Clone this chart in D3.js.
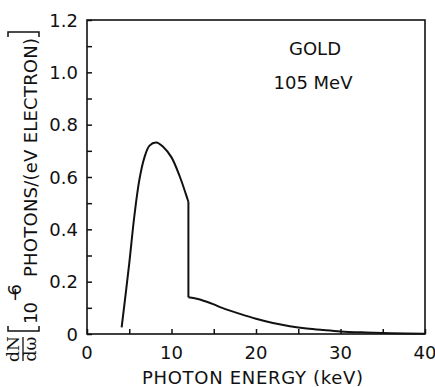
<!DOCTYPE html>
<meta charset="utf-8">
<style>
    body { margin: 0; background: #fff; }
    .tick-label { font: 18px "DejaVu Sans", sans-serif; fill: #111; }
    .title { font: 18px "DejaVu Sans", sans-serif; fill: #111; }
    .frac { font: 17px "DejaVu Serif", "Liberation Serif", serif; fill: #111; }
</style>
<svg width="435" height="387"></svg>
<script src="https://d3js.org/d3.v7.min.js"></script>
<script>

    // spectrum below the L-edge (keV, 1e-6 photons / (eV electron))
    var lowE = [4.1, 5.0, 5.6, 6.2, 6.8, 7.4, 8.2, 9.0, 10.0, 11.0, 11.9, 12.0];
    var lowN = [0.025, 0.27, 0.45, 0.59, 0.675, 0.72, 0.732, 0.716, 0.675, 0.60, 0.515, 0.505];
    // spectrum above the edge
    var highE = [12.0, 13, 14, 15, 16, 18, 20, 22, 24, 26, 28, 30, 33, 36, 40];
    var highN = [0.14, 0.135, 0.125, 0.113, 0.10, 0.078, 0.058, 0.042, 0.030, 0.021, 0.015, 0.010, 0.006, 0.003, 0.001];

    var xTicks = [0, 10, 20, 30, 40];
    var yTicks = [0, 0.2, 0.4, 0.6, 0.8, 1.0, 1.2];
    var notes = ["GOLD", "105 MeV"];

    var svg = d3.select("svg"),
        pLeft = 87, pRight = 425, pTop = 20, pBottom = 334;

    var x = d3.scaleLinear().domain([0, 40]).range([pLeft, pRight]);
    var y = d3.scaleLinear().domain([0, 1.2]).range([pBottom, pTop]);

    // frame
    svg.append("rect")
        .attr("x", pLeft).attr("y", pTop)
        .attr("width", pRight - pLeft).attr("height", pBottom - pTop)
        .attr("fill", "none").attr("stroke", "#111").attr("stroke-width", 1.6);

    // inward ticks
    svg.append("g").attr("transform", "translate(0," + pBottom + ")")
        .call(d3.axisBottom(x).tickValues(d3.range(0, 41, 5)).tickSize(-5).tickFormat(""));
    svg.append("g").attr("transform", "translate(" + pLeft + ",0)")
        .call(d3.axisLeft(y).tickValues(d3.range(0, 1.21, 0.1)).tickSize(-5).tickFormat(""));
    svg.selectAll(".domain").remove();
    svg.selectAll(".tick line").attr("stroke", "#111").attr("stroke-width", 1.5);

    svg.selectAll(".xl").data(xTicks).enter().append("text")
        .attr("class", "tick-label")
        .attr("x", function (d) { return x(d); })
        .attr("y", 359)
        .attr("text-anchor", "middle")
        .text(function (d) { return d; });

    svg.selectAll(".yl").data(yTicks).enter().append("text")
        .attr("class", "tick-label")
        .attr("x", 78)
        .attr("y", function (d) { return y(d) + 6.5; })
        .attr("text-anchor", "end")
        .text(function (d) { return d === 0 ? "0" : d3.format(".1f")(d); });

    // curve
    var line = d3.line()
        .x(function (d) { return x(d[0]); })
        .y(function (d) { return y(d[1]); })
        .curve(d3.curveCatmullRom.alpha(0.5));

    var lowPts = d3.zip(lowE, lowN), highPts = d3.zip(highE, highN);
    svg.append("path").attr("d", line(lowPts))
        .attr("fill", "none").attr("stroke", "#111").attr("stroke-width", 2);
    svg.append("line")
        .attr("x1", x(lowE[lowE.length - 1])).attr("y1", y(lowN[lowN.length - 1]))
        .attr("x2", x(highE[0])).attr("y2", y(highN[0]))
        .attr("stroke", "#111").attr("stroke-width", 2);
    svg.append("path").attr("d", line(highPts))
        .attr("fill", "none").attr("stroke", "#111").attr("stroke-width", 2);

    // annotations
    svg.append("text").attr("class", "title").attr("x", 315).attr("y", 54.5)
        .attr("text-anchor", "middle").text(notes[0]);
    svg.append("text").attr("class", "title").attr("x", 313).attr("y", 88.5)
        .attr("text-anchor", "middle").text(notes[1]);

    // x title
    svg.append("text").attr("class", "title")
        .attr("x", 142).attr("y", 384)
        .attr("textLength", 221).attr("lengthAdjust", "spacing")
        .text("PHOTON ENERGY  (keV)");

    // y title, rotated: local (u, v) -> screen (v, -u)
    var gt = svg.append("g").attr("transform", "rotate(-90)");
    gt.append("text").attr("class", "frac").attr("x", -349).attr("y", 19)
        .attr("text-anchor", "middle").text("dN");
    gt.append("text").attr("class", "frac").attr("x", -349).attr("y", 36)
        .attr("text-anchor", "middle").text("dω");
    gt.append("line").attr("x1", -361).attr("x2", -337).attr("y1", 23).attr("y2", 23)
        .attr("stroke", "#111").attr("stroke-width", 1.3);
    gt.append("path").attr("d", "M-326,8H-331V39H-326")
        .attr("fill", "none").attr("stroke", "#111").attr("stroke-width", 1.5);
    gt.append("text").attr("class", "title").attr("x", -324).attr("y", 37)
        .attr("textLength", 22).text("10");
    gt.append("text").attr("class", "title").attr("x", -302).attr("y", 21)
        .attr("textLength", 18).text("−6");
    gt.append("text").attr("class", "title").attr("x", -277).attr("y", 37)
        .attr("textLength", 239).attr("lengthAdjust", "spacing")
        .text("PHOTONS/(eV ELECTRON)");
    gt.append("path").attr("d", "M-37,8H-32V39H-37")
        .attr("fill", "none").attr("stroke", "#111").attr("stroke-width", 1.5);

</script>
